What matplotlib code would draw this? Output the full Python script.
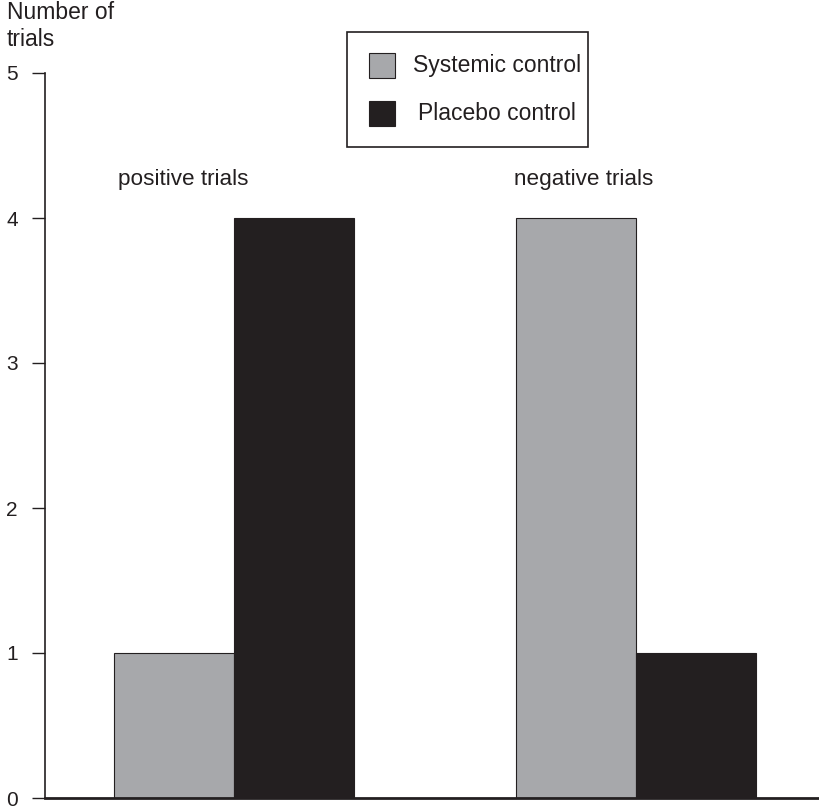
import matplotlib
matplotlib.use('Agg')
from matplotlib import pyplot as plt
from matplotlib.patches import Rectangle
import numpy as np

plt.rcParams['font.family'] = ['Liberation Sans', 'DejaVu Sans']

# data
groups = ['positive trials', 'negative trials']
series = ['Systemic control', 'Placebo control']
systemic = [1, 4]
placebo = [4, 1]
yticks = [0, 1, 2, 3, 4, 5]

gray = '#a7a8ab'
black = '#231f20'

W, H = 820, 809
fig = plt.figure(figsize=(8.2, 8.09), dpi=100)
ax = fig.add_axes([45/W, 11/H, 1 - 45/W, (798 - 73)/H])

x = np.arange(len(groups))
w = 0.2985
ax.bar(x - w/2, systemic, w, color=gray, edgecolor=black, linewidth=0.8)
ax.bar(x + w/2, placebo, w, color=black, edgecolor=black, linewidth=0.8)

ax.set_xlim(-0.470, 1.458)
ax.set_ylim(0, 5)
ax.set_yticks(yticks)
ax.set_yticklabels([str(t) for t in yticks], fontsize=15, color=black)
ax.tick_params(axis='y', length=9.5, width=1, color=black, pad=10)
ax.set_xticks([])
for s in ['top', 'right']:
    ax.spines[s].set_visible(False)
for s in ['left', 'bottom']:
    ax.spines[s].set_color(black)
    ax.spines[s].set_linewidth(1.2)
ax.spines['bottom'].set_linewidth(2)

# group labels
ax.text(-0.126, 4.23, groups[0], ha='center', va='baseline', fontsize=16.2, color=black)
ax.text(0.869, 4.23, groups[1], ha='center', va='baseline', fontsize=16.2, color=black)

fig.text(7/W, 1 - 1/H, 'Number of\ntrials', ha='left', va='top', fontsize=16.5,
         color=black, linespacing=1.22)

# legend box drawn by hand
fig.patches.append(Rectangle((347/W, 1 - 147/H), 241/W, 115/H, transform=fig.transFigure,
                             facecolor='white', edgecolor=black, linewidth=1.2, zorder=5))
for i, (lab, col) in enumerate(zip(series, [gray, black])):
    top = 53 + i*48
    fig.patches.append(Rectangle((369/W, 1 - (top + 25)/H), 26/W, 25/H,
                                 transform=fig.transFigure, facecolor=col,
                                 edgecolor=black, linewidth=0.8, zorder=6))
    fig.text(497/W, 1 - (top + 12.5)/H, lab, ha='center', va='center',
             fontsize=16.5, color=black, zorder=7)

fig.savefig('out.png', dpi=100)
